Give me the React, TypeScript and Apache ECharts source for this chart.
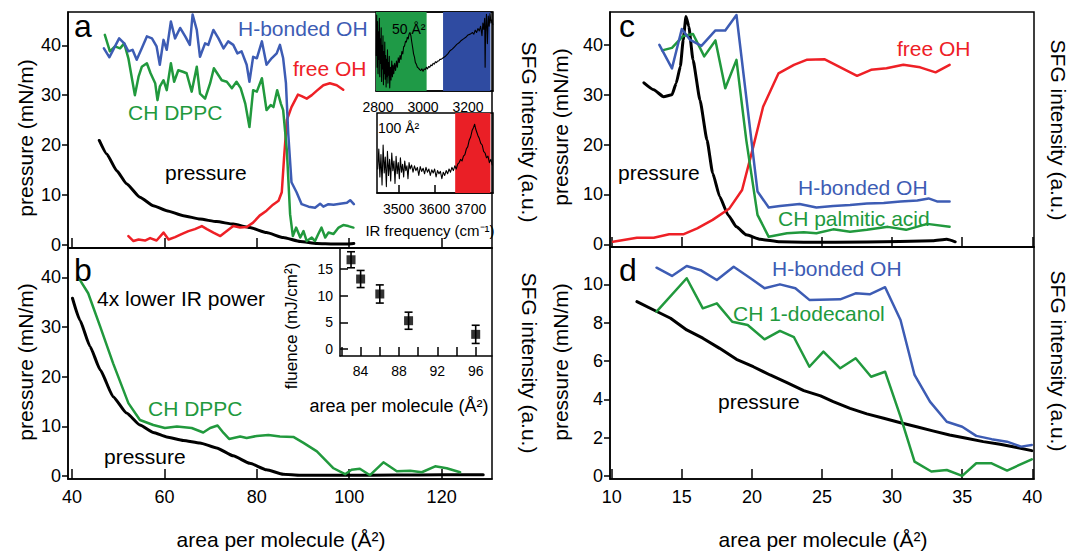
import React, { useEffect, useRef } from 'react';
import * as echarts from 'echarts';

const FONT = '"Liberation Sans", Arial, Helvetica, sans-serif';
const BLUE = '#3d5cb4';
const GREEN = '#21993d';
const RED = '#ee2026';
const BAND_GREEN = '#1f9a47';
const BAND_BLUE = '#2f4ba1';
const BAND_RED = '#ea1f26';

// ---------- tick values ----------
const abXTicks = [40, 60, 80, 100, 120];
const abYTicks = [0, 10, 20, 30, 40];
const cdXTicks = [10, 15, 20, 25, 30, 35, 40];
const cYTicks = [0, 10, 20, 30, 40];
const dYTicks = [0, 2, 4, 6, 8, 10];
const ir1Ticks = [2800, 2900, 3000, 3100, 3200];
const ir1Labels = [2800, 3000, 3200];
const ir2Ticks = [3500, 3600, 3700];
const fluXTicks = [82, 84, 86, 88, 90, 92, 94, 96];
const fluXLabels = [84, 88, 92, 96];
const fluYTicks = [0, 5, 10, 15];

// ---------- panel a (DPPC) ----------
const aPressure = [[45.9,20.9],[47.5,18.2],[49.7,14.8],[51.8,12.2],[54.7,9.5],[57.6,7.8],[60.5,6.8],[64.1,5.8],[67.7,5.1],[71.3,4.6],[74.9,4.1],[78.5,3.4],[82.1,2.4],[85.7,1.4],[89.4,0.6],[93.0,0.2],[96.6,0.1],[99.5,0.1],[101.0,0.2]];
const aHbond = [[46.9,39.4],[48.1,37.6],[49.3,39.8],[50.2,41.4],[51.3,40.4],[52.2,38.8],[53.1,39.1],[54.0,37.1],[55.1,39.4],[56.2,41.8],[57.3,41.4],[58.3,39.8],[59.0,36.1],[59.8,41.1],[60.5,39.1],[61.4,44.8],[62.3,41.4],[63.4,43.5],[64.5,41.8],[65.5,40.1],[66.1,46.2],[67.0,43.1],[67.7,37.7],[68.8,40.4],[69.5,40.1],[70.6,43.1],[71.7,41.4],[72.8,39.4],[73.8,40.8],[74.9,40.1],[75.8,38.4],[76.7,38.8],[77.8,36.1],[78.4,32.7],[79.2,37.7],[80.0,37.4],[81.1,40.8],[82.1,36.1],[83.2,37.4],[84.3,38.4],[85.0,40.1],[85.7,37.4],[86.3,32.4],[86.8,22.3],[87.5,12.5],[88.6,10.5],[89.7,8.1],[91.2,7.6],[92.6,7.4],[93.7,8.2],[94.4,7.6],[95.5,8.1],[96.6,8.0],[98.0,8.2],[99.5,8.4],[100.2,8.9],[101.0,8.1]];
const aCH = [[47.1,42.1],[48.2,38.8],[49.3,39.8],[50.4,39.4],[51.3,40.4],[52.2,37.4],[52.9,33.7],[53.6,30.0],[54.4,33.7],[55.1,35.7],[56.2,36.4],[57.0,34.4],[58.0,32.4],[58.5,29.0],[59.0,31.7],[59.8,33.0],[60.5,31.0],[61.4,36.4],[62.1,32.7],[63.0,35.0],[64.0,34.7],[64.8,34.4],[65.9,30.7],[67.0,35.7],[67.7,30.3],[68.8,29.3],[69.9,32.4],[70.7,35.4],[71.7,34.0],[72.4,33.0],[73.5,32.7],[74.6,31.4],[75.6,32.7],[76.5,31.4],[77.5,28.3],[78.4,23.6],[79.2,31.0],[80.0,30.7],[81.1,33.4],[82.1,27.0],[83.0,28.0],[83.6,27.6],[84.4,31.0],[85.2,28.3],[85.7,27.0],[86.5,18.9],[87.2,6.1],[87.8,1.7],[88.5,3.4],[89.4,1.4],[90.1,2.7],[90.8,0.7],[91.9,1.4],[92.6,0.7],[93.3,2.1],[94.0,3.4],[94.8,1.4],[95.5,2.4],[96.6,2.1],[97.7,3.4],[98.7,3.9],[99.8,3.7],[100.9,3.4]];
const aFree = [[52.2,1.7],[53.3,0.7],[54.4,1.0],[55.8,0.8],[56.9,1.3],[58.3,0.8],[59.8,2.4],[60.9,1.0],[62.3,1.5],[63.7,2.1],[65.2,2.7],[66.6,3.1],[68.1,3.7],[69.2,3.1],[70.6,2.4],[72.1,1.7],[73.5,2.7],[74.9,3.7],[76.4,3.4],[77.8,3.5],[79.2,4.4],[80.6,5.8],[82.1,6.8],[83.5,8.0],[84.7,8.8],[85.4,10.5],[85.9,17.5],[86.5,25.0],[87.5,27.6],[88.9,30.1],[89.7,29.8],[90.8,29.3],[91.9,30.0],[93.0,30.9],[94.4,32.0],[95.8,32.4],[97.3,32.0],[98.7,31.1]];

// IR spectra insets (arbitrary intensity, 0-100)
const spec50 = [[2792,45],[2794,96],[2796,30],[2798,88],[2800,22],[2802,75],[2804,40],[2806,92],[2808,18],[2810,66],[2812,35],[2814,80],[2816,12],[2818,58],[2820,28],[2822,70],[2824,8],[2826,50],[2828,22],[2830,62],[2832,15],[2834,45],[2836,5],[2838,40],[2840,18],[2842,52],[2844,10],[2846,36],[2848,20],[2850,44],[2852,4],[2855,30],[2858,14],[2861,38],[2864,18],[2867,33],[2870,22],[2874,35],[2878,26],[2882,38],[2886,30],[2890,42],[2894,36],[2898,45],[2902,40],[2906,50],[2910,47],[2914,56],[2918,57],[2922,63],[2926,62],[2930,68],[2934,66],[2938,72],[2942,74],[2946,70],[2950,62],[2954,55],[2958,47],[2962,43],[2966,36],[2970,34],[2975,30],[2980,29],[2985,27],[2990,26],[2995,28],[3000,25],[3005,28],[3010,27],[3015,30],[3020,28],[3025,31],[3030,30],[3035,33],[3040,32],[3045,35],[3050,34],[3055,37],[3060,36],[3065,38],[3070,38],[3075,40],[3080,40],[3090,42],[3100,44],[3110,47],[3120,51],[3130,53],[3140,56],[3150,59],[3160,61],[3170,64],[3180,66],[3190,68],[3200,71],[3210,72],[3220,74],[3226,72],[3232,77],[3238,74],[3244,79],[3250,76],[3256,82],[3262,70],[3266,86],[3270,78],[3274,92],[3276,30],[3278,75],[3282,97],[3286,60],[3290,95],[3294,82],[3298,98],[3302,86],[3306,90],[3310,84]];
const band50Green = [2790, 3016];
const band50Blue = [3089, 3300];
const spec100 = [[3442,30],[3445,55],[3448,20],[3451,48],[3454,10],[3457,60],[3460,25],[3463,45],[3466,8],[3469,52],[3472,22],[3475,42],[3478,15],[3481,50],[3484,28],[3487,40],[3490,12],[3493,46],[3496,24],[3499,38],[3502,18],[3505,44],[3508,26],[3511,36],[3514,20],[3517,40],[3520,28],[3523,34],[3526,18],[3529,38],[3532,30],[3536,35],[3540,26],[3544,34],[3548,28],[3552,32],[3556,22],[3560,33],[3564,27],[3568,31],[3572,24],[3576,32],[3580,26],[3584,30],[3588,22],[3592,29],[3596,25],[3600,30],[3604,20],[3608,28],[3612,24],[3616,27],[3620,18],[3624,26],[3628,22],[3632,28],[3636,24],[3640,30],[3644,26],[3648,32],[3652,28],[3656,34],[3660,30],[3664,36],[3668,38],[3672,42],[3676,40],[3680,46],[3684,48],[3688,55],[3692,58],[3696,66],[3700,70],[3704,78],[3708,82],[3711,86],[3714,80],[3717,76],[3720,72],[3724,68],[3728,62],[3732,60],[3736,52],[3740,50],[3744,44],[3748,46],[3752,38],[3756,42],[3760,35]];
const band100Red = [3657, 3755];

// ---------- panel b (DPPC, 4x lower IR power) ----------
const bPressure = [[40.1,35.8],[41.7,31.4],[43.9,26.1],[46.1,21.4],[48.9,16.0],[51.8,12.7],[54.7,10.3],[57.6,8.8],[60.5,7.9],[64.1,7.2],[67.7,6.7],[71.3,5.7],[74.9,4.1],[78.5,2.6],[82.1,1.3],[85.7,0.4],[89.4,0.2],[95,0.2],[105,0.2],[115,0.25],[125,0.3],[129,0.3]];
const bCH = [[41.7,39.5],[43.5,36.8],[46.1,30.1],[48.9,22.7],[52.2,14.7],[54.7,11.3],[57.6,10.3],[60.1,9.7],[62.7,10.0],[65.9,9.7],[68.4,8.8],[69.9,9.7],[71.5,10.2],[72.8,8.7],[74.0,7.5],[76.4,8.0],[77.8,7.7],[80.0,8.1],[82.5,8.3],[85.0,8.0],[87.9,7.9],[90.1,6.7],[93.0,5.0],[94.8,3.3],[96.6,1.6],[99.1,0.4],[100.5,1.3],[102.3,1.5],[104.5,0.2],[107.4,2.8],[110.3,1.0],[113.2,1.1],[115.7,0.8],[118.6,2.0],[121.1,1.6],[124.0,0.8]];
// fluence inset
const fluArea = [83, 84, 86, 89, 96];
const fluence = [16.7, 13.1, 10.3, 5.3, 2.75];
const fluErr = [1.5, 1.6, 1.7, 1.6, 1.7];

// ---------- panel c (palmitic acid) ----------
const cPressure = [[12.3,32.4],[13.0,31.0],[13.7,29.6],[14.3,30.0],[14.6,32.3],[14.9,35.7],[15.1,41.0],[15.3,45.7],[15.5,43.7],[15.8,37.0],[16.3,28.9],[16.8,20.9],[17.2,14.3],[17.7,9.6],[18.3,5.9],[18.9,3.5],[19.6,1.9],[20.6,1.0],[22.0,0.5],[23.7,0.4],[28.2,0.46],[32.9,0.7],[33.9,1.0],[34.5,0.5]];
const cFree = [[10.1,0.5],[11.8,1.3],[13.0,1.3],[14.1,2.0],[15.1,2.0],[16.1,3.2],[17.2,4.9],[18.4,7.2],[19.3,10.9],[20.1,19.6],[20.8,27.6],[21.9,34.3],[23.0,36.0],[23.9,37.0],[25.2,37.1],[27.5,33.8],[28.5,35.0],[29.6,35.3],[30.8,36.0],[32.0,35.5],[33.1,34.5],[34.1,36.0]];
const cHbond = [[13.4,40.0],[14.3,35.3],[15.0,43.2],[15.6,41.0],[16.4,39.8],[17.4,42.9],[18.1,42.9],[18.9,46.0],[20.4,10.6],[21.2,7.4],[22.0,7.7],[23.4,8.1],[24.6,7.4],[25.8,7.7],[27.0,7.9],[28.2,8.2],[29.4,8.3],[30.6,8.6],[31.8,8.8],[32.6,9.2],[33.2,8.6],[34.1,8.6]];
const cCH = [[13.6,38.9],[14.3,39.4],[15.1,41.8],[15.8,42.2],[16.6,37.7],[17.4,40.9],[18.1,31.3],[18.9,37.0],[19.6,20.9],[20.4,5.9],[21.2,1.5],[22.5,2.2],[23.7,2.4],[24.6,2.2],[25.8,3.0],[27.0,2.5],[28.2,2.9],[29.7,3.5],[31.0,2.9],[32.5,4.1],[34.1,3.5]];

// ---------- panel d (1-dodecanol) ----------
const dPressure = [[11.8,9.10],[13.0,8.66],[14.2,8.23],[15.35,7.62],[16.5,7.19],[17.7,6.66],[18.9,6.09],[20.1,5.70],[21.3,5.27],[22.5,4.87],[23.7,4.45],[24.9,4.18],[25.8,3.88],[27.0,3.53],[28.2,3.24],[29.4,3.01],[30.6,2.78],[31.75,2.57],[32.9,2.35],[34.1,2.14],[35.3,1.97],[36.5,1.79],[37.7,1.65],[38.9,1.48],[39.96,1.32]];
const dHbond = [[13.2,10.87],[14.3,10.44],[15.35,10.96],[16.4,10.72],[17.5,10.23],[18.7,10.92],[19.9,10.32],[20.9,9.80],[22.0,10.0],[23.1,9.80],[24.1,9.19],[26.3,9.22],[27.4,9.53],[28.4,9.48],[29.5,9.85],[30.6,8.14],[31.6,5.27],[32.7,3.88],[33.9,2.83],[35.0,2.57],[36.0,2.09],[37.1,1.92],[38.2,1.79],[39.2,1.53],[39.96,1.62]];
const dCH = [[13.2,8.58],[15.35,10.32],[16.5,8.75],[17.5,9.01],[18.6,8.05],[19.7,7.88],[20.9,7.13],[22.0,7.57],[23.0,7.24],[24.1,5.70],[25.1,6.49],[26.3,5.62],[27.4,6.14],[28.5,5.18],[29.5,5.44],[30.6,3.10],[31.6,0.75],[32.8,0.23],[33.9,0.31],[35.0,0.0],[36.0,0.66],[37.1,0.66],[38.2,0.28],[39.96,0.87]];

const onlyIn = (list: number[]) => (v: number) =>
  list.some((t) => Math.abs(t - v) < 1e-6) ? String(v) : '';

function xAx(gi: number, min: number, max: number, step: number, ticks: number[], labels: number[] | null, o: any = {}) {
  return {
    type: 'value', gridIndex: gi, min, max, minInterval: step, maxInterval: step,
    axisLine: { show: true, onZero: false, lineStyle: { color: '#000', width: 1.5 } },
    axisTick: { show: true, inside: true, length: o.tickLen ?? 10, customValues: ticks, lineStyle: { color: '#000', width: 1.5 } },
    axisLabel: {
      show: !!labels, color: '#000', fontSize: o.fontSize ?? 18, fontFamily: FONT, margin: o.margin ?? 9,
      customValues: labels || undefined, formatter: onlyIn(labels || []), showMinLabel: true, showMaxLabel: true,
    },
    splitLine: { show: false },
  };
}
function yAx(gi: number, min: number, max: number, step: number, ticks: number[] | null, o: any = {}) {
  const show = !!ticks;
  return {
    type: 'value', gridIndex: gi, min, max, minInterval: step, maxInterval: step,
    axisLine: { show: o.line ?? true, onZero: false, lineStyle: { color: '#000', width: 1.5 } },
    axisTick: { show, inside: !!o.inside, length: o.tickLen ?? 6, customValues: ticks || undefined, lineStyle: { color: '#000', width: 1.5 } },
    axisLabel: {
      show, color: '#000', fontSize: o.fontSize ?? 18, fontFamily: FONT, margin: o.margin ?? 7,
      customValues: ticks || undefined, formatter: onlyIn(ticks || []), showMinLabel: true, showMaxLabel: true,
    },
    splitLine: { show: false },
  };
}
function line(i: number, data: number[][], color: string, width: number, smooth: any = false, extra: any = {}) {
  return {
    type: 'line', xAxisIndex: i, yAxisIndex: i, data, showSymbol: false, symbol: 'none', smooth,
    smoothMonotone: smooth ? 'x' : undefined, silent: true, animation: false,
    lineStyle: { color, width, join: 'round', cap: 'round' }, itemStyle: { color }, z: 3, ...extra,
  };
}
function txt(text: string, x: number, y: number, size: number, color = '#000', align = 'left', rot = 0) {
  return {
    type: 'text', x, y, rotation: rot, z: 100, silent: true,
    style: { text, fill: color, fontSize: size, fontFamily: FONT, textAlign: align, textVerticalAlign: 'middle' },
  };
}

export default function App() {
  const ref = useRef<HTMLDivElement>(null);
  useEffect(() => {
    const chart = echarts.init(ref.current!, undefined, { renderer: 'svg' });
    const box = { show: true, borderColor: '#000', borderWidth: 1.5, backgroundColor: 'transparent', containLabel: false, outerBoundsMode: 'none' };
    const option: any = {
      animation: false,
      backgroundColor: '#fff',
      grid: [
        { left: 68, top: 12, width: 424, height: 236, ...box },
        { left: 68, top: 248, width: 424, height: 231, ...box },
        { left: 610, top: 12, width: 424, height: 235, ...box },
        { left: 610, top: 247, width: 424, height: 232, ...box },
        { left: 376, top: 12, width: 117, height: 79, ...box },
        { left: 377, top: 113, width: 116, height: 80, ...box },
        { left: 340, top: 248, width: 152, height: 108, show: false, containLabel: false, outerBoundsMode: 'none' },
      ],
      xAxis: [
        xAx(0, 39.13, 130.9, 20, abXTicks, null),
        xAx(1, 39.13, 130.9, 20, abXTicks, abXTicks),
        xAx(2, 9.88, 40.12, 5, cdXTicks, null),
        xAx(3, 9.88, 40.12, 5, cdXTicks, cdXTicks),
        xAx(4, 2791, 3311, 100, ir1Ticks, ir1Labels, { tickLen: 6, fontSize: 14, margin: 9 }),
        xAx(5, 3440, 3762, 100, ir2Ticks, ir2Ticks, { tickLen: 8, fontSize: 14, margin: 9 }),
        xAx(6, 81.85, 97.7, 2, fluXTicks, fluXLabels, { tickLen: 9, fontSize: 14, margin: 8 }),
      ],
      yAxis: [
        yAx(0, -0.7, 46.7, 10, abYTicks),
        yAx(1, -0.56, 45.9, 10, abYTicks),
        yAx(2, -0.54, 46.6, 10, cYTicks),
        yAx(3, -0.16, 11.95, 2, dYTicks),
        yAx(4, 0, 100, 50, null, { line: false }),
        yAx(5, 0, 100, 50, null, { line: false }),
        yAx(6, -1.3, 18.9, 5, fluYTicks, { inside: true, tickLen: 8, fontSize: 14, margin: 7 }),
      ],
      series: [
        // panel a
        line(0, aPressure, '#000', 3, 0.15),
        line(0, aFree, RED, 2.5),
        line(0, aCH, GREEN, 2.5),
        line(0, aHbond, BLUE, 2.5),
        // inset spectra
        line(4, spec50, '#000', 1.1, false, {
          markArea: {
            silent: true,
            data: [
              [{ xAxis: band50Green[0], itemStyle: { color: BAND_GREEN, opacity: 1 } }, { xAxis: band50Green[1] }],
              [{ xAxis: band50Blue[0], itemStyle: { color: BAND_BLUE, opacity: 1 } }, { xAxis: band50Blue[1] }],
            ],
          },
        }),
        line(5, spec100, '#000', 1.1, false, {
          markArea: {
            silent: true,
            data: [[{ xAxis: band100Red[0], itemStyle: { color: BAND_RED, opacity: 1 } }, { xAxis: band100Red[1] }]],
          },
        }),
        // panel b
        line(1, bPressure, '#000', 3, 0.15),
        line(1, bCH, GREEN, 2.5),
        {
          type: 'custom', xAxisIndex: 6, yAxisIndex: 6, silent: true, z: 4,
          encode: { x: 0, y: 1 },
          data: fluArea.map((a, i) => [a, fluence[i], fluErr[i]]),
          renderItem: (params: any, api: any) => {
            const x = api.value(0), y = api.value(1), e = api.value(2);
            const t = api.coord([x, y + e]);
            const b = api.coord([x, y - e]);
            const w = 4;
            const st = { stroke: '#000', lineWidth: 1.6 };
            return {
              type: 'group',
              children: [
                { type: 'line', shape: { x1: t[0], y1: t[1], x2: b[0], y2: b[1] }, style: st },
                { type: 'line', shape: { x1: t[0] - w, y1: t[1], x2: t[0] + w, y2: t[1] }, style: st },
                { type: 'line', shape: { x1: b[0] - w, y1: b[1], x2: b[0] + w, y2: b[1] }, style: st },
              ],
            };
          },
        },
        {
          type: 'scatter', xAxisIndex: 6, yAxisIndex: 6, silent: true, z: 5,
          symbol: 'rect', symbolSize: 9, itemStyle: { color: '#000' },
          data: fluArea.map((a, i) => [a, fluence[i]]),
        },
        // panel c
        line(2, cPressure, '#000', 3, 0.15),
        line(2, cFree, RED, 2.5),
        line(2, cCH, GREEN, 2.5),
        line(2, cHbond, BLUE, 2.5),
        // panel d
        line(3, dPressure, '#000', 3),
        line(3, dCH, GREEN, 2.5),
        line(3, dHbond, BLUE, 2.5),
      ],
      graphic: [
        // panel letters
        txt('a', 74, 26, 32), txt('b', 74, 270, 32), txt('c', 619, 26, 32), txt('d', 619, 270, 32),
        // panel a labels
        txt('H-bonded OH', 238, 28, 21, BLUE),
        txt('free OH', 293, 68, 21, RED),
        txt('CH DPPC', 128, 112, 21, GREEN),
        txt('pressure', 165, 172, 21),
        txt('50 Å²', 392, 29, 14),
        txt('100 Å²', 378, 128, 14),
        txt('IR frequency (cm⁻¹)', 430, 230, 15, '#000', 'center'),
        // panel b labels
        txt('4x lower IR power', 97, 298, 21),
        txt('CH DPPC', 148, 408, 21, GREEN),
        txt('pressure', 104, 456, 21),
        txt('fluence (mJ/cm²)', 291, 326, 17, '#000', 'center', Math.PI / 2),
        txt('area per molecule (Å²)', 399, 406, 18, '#000', 'center'),
        // panel c labels
        txt('free OH', 897, 48, 21, RED),
        txt('H-bonded OH', 798, 187, 21, BLUE),
        txt('CH palmitic acid', 778, 218, 21, GREEN),
        txt('pressure', 618, 172, 21),
        // panel d labels
        txt('H-bonded OH', 772, 268, 21, BLUE),
        txt('CH 1-dodecanol', 733, 313, 21, GREEN),
        txt('pressure', 718, 401, 21),
        // axis titles
        txt('pressure (mN/m)', 25, 138, 21, '#000', 'center', Math.PI / 2),
        txt('pressure (mN/m)', 25, 362, 21, '#000', 'center', Math.PI / 2),
        txt('pressure (mN/m)', 560, 127, 21, '#000', 'center', Math.PI / 2),
        txt('pressure (mN/m)', 560, 362, 21, '#000', 'center', Math.PI / 2),
        txt('SFG intensity (a.u.)', 529, 132, 21, '#000', 'center', -Math.PI / 2),
        txt('SFG intensity (a.u.)', 529, 363, 21, '#000', 'center', -Math.PI / 2),
        txt('SFG intensity (a.u.)', 1058, 130, 21, '#000', 'center', -Math.PI / 2),
        txt('SFG intensity (a.u.)', 1058, 361, 21, '#000', 'center', -Math.PI / 2),
        txt('area per molecule (Å²)', 281, 539, 21, '#000', 'center'),
        txt('area per molecule (Å²)', 823, 539, 21, '#000', 'center'),
      ],
    };
    chart.setOption(option);
    return () => chart.dispose();
  }, []);
  return <div ref={ref} style={{ position: 'fixed', left: 0, top: 0, width: 1071, height: 552, background: '#fff' }} />;
}
